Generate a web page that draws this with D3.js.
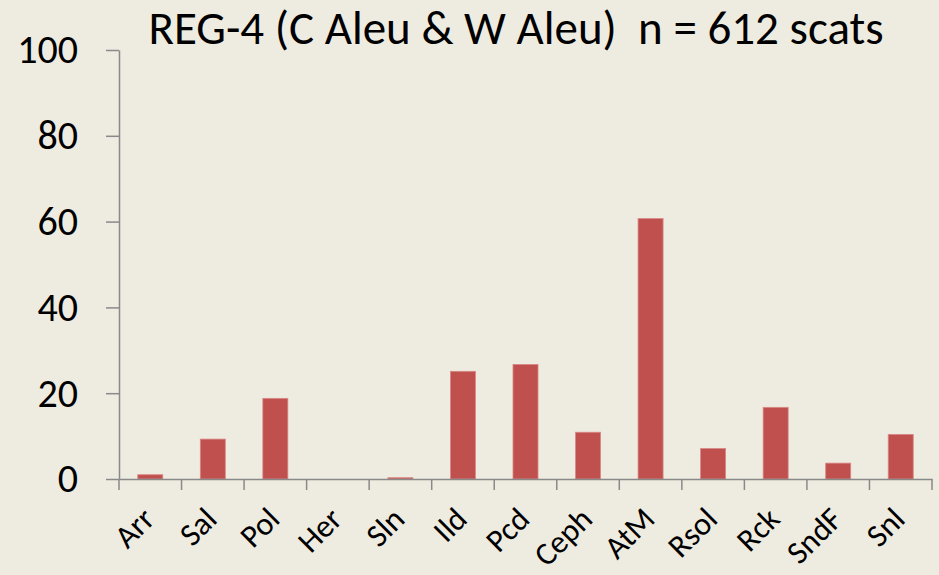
<!DOCTYPE html>
<html>
<head>
<meta charset="utf-8">
<script src="https://cdn.jsdelivr.net/npm/d3@7"></script>
<style>
  body { margin: 0; background: #EEECE1; }
  text { font-family: "Carlito", "Noto Sans", sans-serif; fill: #000; }
</style>
</head>
<body>
<div id="chart"></div>
<script>
const categories = ["Arr", "Sal", "Pol", "Her", "Sln", "Ild", "Pcd", "Ceph", "AtM", "Rsol", "Rck", "SndF", "Snl"];
const values = [1.0, 9.3, 18.8, 0, 0.3, 25.1, 26.7, 10.9, 60.7, 7.1, 16.7, 3.7, 10.4];
const yTicks = [0, 20, 40, 60, 80, 100];
const title = "REG-4 (C Aleu & W Aleu)  n = 612 scats";

const width = 939;
const height = 575;
const margin = { top: 50, right: 7, bottom: 96, left: 119 };

const svg = d3.select("#chart")
    .append("svg")
    .attr("width", width)
    .attr("height", height);

svg.append("rect")
    .attr("width", width)
    .attr("height", height)
    .attr("fill", "#EEECE1");

const x = d3.scaleBand()
    .domain(categories)
    .range([margin.left, width - margin.right])
    .paddingInner(0.6)
    .paddingOuter(0.3);

const y = d3.scaleLinear()
    .domain([0, 100])
    .range([height - margin.bottom, margin.top]);

// title (keep the double space)
svg.append("text")
    .attr("x", 516)
    .attr("y", 44)
    .attr("text-anchor", "middle")
    .style("font-size", "47px")
    .style("white-space", "pre")
    .text(title);

// bars
svg.selectAll("rect.bar")
    .data(values)
    .enter().append("rect")
    .attr("class", "bar")
    .attr("x", (d, i) => x(categories[i]))
    .attr("y", d => y(d))
    .attr("width", x.bandwidth())
    .attr("height", d => y(0) - y(d))
    .attr("fill", "#C0504D")
    .attr("stroke", "#D98886")
    .attr("stroke-width", 0.8);

// y axis
const yAxis = svg.append("g")
    .attr("transform", `translate(${margin.left},0)`)
    .call(d3.axisLeft(y).tickValues(yTicks).tickSize(13).tickPadding(28).tickSizeOuter(0));

yAxis.select(".domain").attr("stroke", "#898989").attr("stroke-width", 1.5);
yAxis.selectAll(".tick line").attr("stroke", "#898989").attr("stroke-width", 1.5);
yAxis.selectAll(".tick text")
    .style("font-size", "40px")
    .attr("fill", "#000");

// x axis
const xAxis = svg.append("g")
    .attr("transform", `translate(0,${y(0)})`)
    .call(d3.axisBottom(x).tickSize(0).tickFormat(""));

xAxis.select(".domain").attr("stroke", "#898989").attr("stroke-width", 1.5);

// category separators
const sepX = d3.range(categories.length + 1).map(i => margin.left + i * x.step());
xAxis.selectAll("line.sep")
    .data(sepX)
    .enter().append("line")
    .attr("class", "sep")
    .attr("x1", d => d)
    .attr("x2", d => d)
    .attr("y1", 0)
    .attr("y2", 11)
    .attr("stroke", "#898989")
    .attr("stroke-width", 1.5);

// rotated category labels
xAxis.selectAll("text.cat")
    .data(categories)
    .enter().append("text")
    .attr("class", "cat")
    .attr("text-anchor", "end")
    .attr("transform", d => `translate(${x(d) + x.bandwidth() / 2 + 6},${42}) rotate(-45)`)
    .style("font-size", "32px")
    .text(d => d);
</script>
</body>
</html>
